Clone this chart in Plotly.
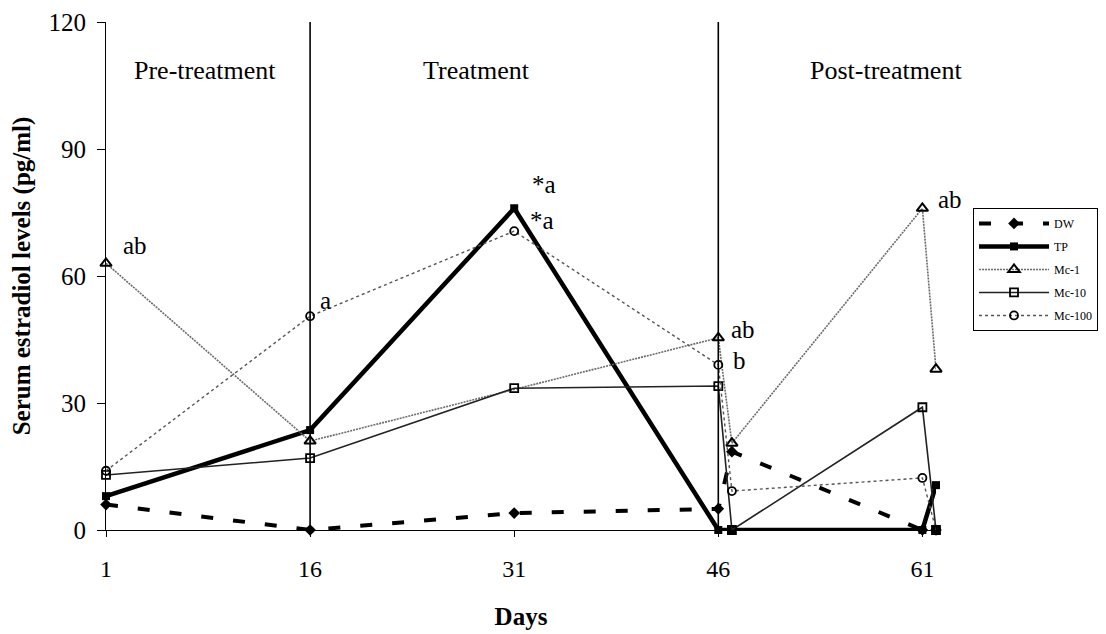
import plotly.graph_objects as go

# ---- data ----
days = [1, 16, 31, 46, 47, 61, 62]
dw = [6, 0, 4, 5, 18.5, 0, 0]
tp = [8, 23.6, 76, 0, 0, 0, 10.6]
mc10 = [13, 17, 33.5, 34, 0, 29, 0]
mc100 = [14, 50.5, 70.6, 39, 9.2, 12.3, 0]

# Mc-1 has no marker at day 31 (line passes straight through)
mc1_days = [1, 16, 46, 47, 61, 62]
mc1 = [63, 21, 45.4, 20.5, 76, 38]

x_ticks = [1, 16, 31, 46, 61]
y_ticks = [0, 30, 60, 90, 120]
phase_bounds = [16, 46]
phase_labels = ["Pre-treatment", "Treatment", "Post-treatment"]
phase_label_x = [8.3, 28.2, 58.3]
phase_label_y = 108.5

SERIF = "Liberation Serif, Times New Roman, serif"

fig = go.Figure()

fig.add_trace(go.Scatter(
    x=days, y=dw, name="DW", mode="lines+markers", legendgroup="g1",
    cliponaxis=False,
    line=dict(color="black", width=4, dash="12px,20px"),
    marker=dict(symbol="diamond", size=9, color="black")))
fig.add_trace(go.Scatter(
    x=days, y=tp, name="TP", mode="lines+markers", legendgroup="g2",
    cliponaxis=False,
    line=dict(color="black", width=4.5),
    marker=dict(symbol="square", size=8, color="black")))
fig.add_trace(go.Scatter(
    x=mc1_days, y=mc1, name="Mc-1", mode="lines+markers", legendgroup="g3",
    cliponaxis=False,
    line=dict(color="#6a6a6a", width=1.6, dash="2px,1px"),
    marker=dict(symbol="triangle-up-open", size=10, color="black",
                line=dict(width=2))))
fig.add_trace(go.Scatter(
    x=days, y=mc10, name="Mc-10", mode="lines+markers", legendgroup="g4",
    cliponaxis=False,
    line=dict(color="#222222", width=1.6),
    marker=dict(symbol="square-open", size=8, color="black",
                line=dict(width=1.8))))
fig.add_trace(go.Scatter(
    x=days, y=mc100, name="Mc-100", mode="lines+markers", legendgroup="g5",
    cliponaxis=False,
    line=dict(color="#555555", width=1.4, dash="dot"),
    marker=dict(symbol="circle-open", size=8, color="black",
                line=dict(width=1.8))))

# phase boundaries
for b in phase_bounds:
    fig.add_shape(type="line", x0=b, x1=b, y0=0, y1=120,
                  xref="x", yref="y", line=dict(color="black", width=1.6))

# phase labels
for lbl, px in zip(phase_labels, phase_label_x):
    fig.add_annotation(x=px, y=phase_label_y, text=lbl, showarrow=False,
                       font=dict(family=SERIF, size=26, color="black"))

# significance letters (anchored to data points)
sig = [
    ("ab", 1, mc1[0], 15, 18),
    ("a", 16, mc100[1], 8, 16),
    ("*a", 31, tp[2], 16, 24),
    ("*a", 31, mc100[2], 14, 11),
    ("ab", 46, mc1[2], 11, 8),
    ("b", 46, mc100[3], 13, 4),
    ("ab", 61, mc1[4], 14, 9),
]
for t, xv, yv, xs, ys in sig:
    fig.add_annotation(x=xv, y=yv, text=t, showarrow=False, xanchor="left",
                       xshift=xs, yshift=ys,
                       font=dict(family=SERIF, size=25, color="black"))

fig.update_layout(
    width=1098, height=626,
    margin=dict(l=98, r=170, t=14, b=104, autoexpand=False),
    paper_bgcolor="white", plot_bgcolor="white",
    font=dict(family=SERIF, color="black"),
    showlegend=True,
    legend=dict(x=1.0446, y=0.634, xanchor="left", yanchor="top",
                bordercolor="black", borderwidth=1,
                font=dict(family=SERIF, size=12, color="black"),
                tracegroupgap=4, itemwidth=70, bgcolor="white"),
    xaxis=dict(range=[1, 62], tickvals=x_ticks, ticktext=[str(v) for v in x_ticks],
               showgrid=False, zeroline=False, showline=True, automargin=False,
               linecolor="black", linewidth=1.2,
               ticks="outside", ticklen=6, tickcolor="black",
               tickfont=dict(family=SERIF, size=24),
               ticklabelstandoff=11,
               title=dict(text="<b>Days</b>", font=dict(family=SERIF, size=25),
                          standoff=26)),
    yaxis=dict(range=[0, 120], tickvals=y_ticks,
               showgrid=False, zeroline=False, showline=True, automargin=False,
               linecolor="black", linewidth=1.2,
               ticks="outside", ticklen=8, tickcolor="black",
               tickfont=dict(family=SERIF, size=25),
               ticklabelstandoff=6,
               title=dict(text="<b>Serum estradiol levels (pg/ml)</b>",
                          font=dict(family=SERIF, size=25), standoff=14)),
)

fig.write_html("out.html")
